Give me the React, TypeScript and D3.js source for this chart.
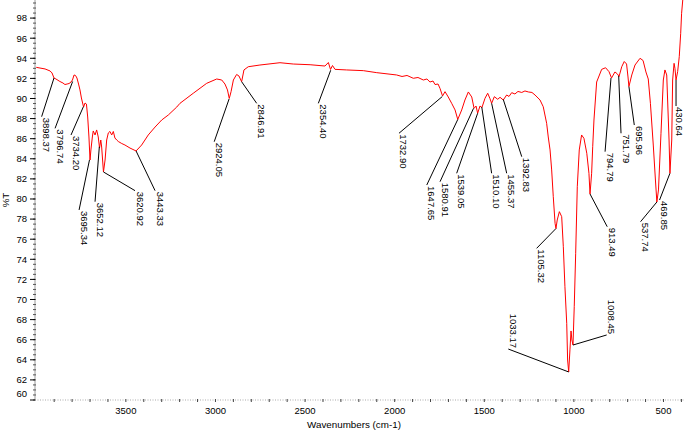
import React from "react";
import * as d3 from "d3";

const wavenumbers = [
  4000,3979,3951,3923,3912,3901,3890,3868,3851,3840,
  3828,3817,3806,3798,3789,3781,3773,3764,3756,3748,
  3736,3728,3720,3713,3706,3700,3695,3687,3682,3672,
  3663,3654,3647,3640,3635,3625,3616,3607,3598,3589,
  3579,3570,3561,3551,3542,3523,3505,3477,3443,3412,
  3375,3337,3300,3263,3216,3198,3124,3049,2993,2965,
  2947,2933,2923,2913,2900,2882,2869,2854,2841,2817,
  2752,2640,2566,2472,2389,2370,2358,2347,2333,2268,
  2175,2100,1989,1959,1931,1896,1870,1840,1820,1803,1786,1775,1758,1747,1733,1719,
  1701,1682,1663,1648,1626,1608,1589,1570,1557,1546,
  1537,1524,1513,1496,1481,1469,1459,1444,1425,1412,
  1394,1375,1362,1347,1329,1312,1291,1273,1254,1234,1217,1189,1171,1152,1143,
  1133,1124,1115,1105,1100,1093,1081,1068,1059,1050,
  1040,1035,1029,1022,1016,1011,1005,998,990,981,
  970,957,944,928,916,910,901,895,888,873,
  845,823,804,790,771,757,748,733,719,706,
  698,693,677,659,631,614,598,585,573,557,
  545,537,528,514,501,492,482,477,469,464,
  454,449,441,436,430,421,412,404,399,390,
];

const transmittance = [
  93.1,93.03,92.94,92.74,92.54,92.04,91.94,91.69,91.54,91.39,
  91.44,91.49,91.64,91.84,92.34,92.29,92.04,91.44,90.85,90.05,
  89.15,89.55,89.45,88.16,86.17,83.88,84.88,86.17,86.77,86.37,
  86.87,86.17,85.07,85.87,85.17,82.69,83.88,85.87,86.57,86.72,
  86.37,86.72,86.07,85.87,85.72,85.52,85.37,85.07,84.78,85.37,
  86.37,87.16,87.86,88.36,89.15,89.52,90.52,91.51,91.94,91.84,
  91.44,90.85,90.0,90.68,91.84,92.39,92.24,91.67,92.84,93.16,
  93.33,93.56,93.43,93.36,93.23,93.58,92.89,93.28,92.9,92.84,
  92.77,92.57,92.34,92.19,92.29,92.01,92.09,91.84,91.94,91.64,91.74,91.39,91.44,91.0,90.25,90.68,
  90.15,89.52,88.86,87.91,88.86,89.85,90.65,90.15,89.02,89.25,
  88.53,89.25,89.1,90.02,90.52,90.02,89.52,90.18,89.92,90.12,
  89.85,90.35,90.2,90.58,90.45,90.7,90.6,90.75,90.65,90.6,90.35,89.85,89.18,87.53,86.17,
  84.88,82.89,80.23,77.58,77.06,77.91,78.74,78.24,75.25,71.27,
  67.63,63.98,62.79,64.98,66.87,65.97,65.47,69.28,74.6,81.22,
  84.88,86.37,86.04,84.55,82.56,80.5,82.56,85.2,87.86,91.64,
  92.9,93.06,92.67,92.04,92.64,92.44,92.19,93.16,93.68,93.43,
  92.14,91.19,92.34,93.33,94.0,93.78,92.64,91.94,89.52,85.37,
  81.89,79.7,80.9,86.54,91.84,92.84,92.34,89.85,85.87,82.56,
  85.87,91.84,93.5,93.0,91.84,92.67,94.16,96.49,98.48,100.3,
];

const peakLabels = ["3898.37","3796.74","3734.20","3695.34","3652.12","3620.92","3443.33","2924.05","2846.91","2354.40","1732.90","1647.65","1580.91","1539.05","1510.10","1455.37","1392.83","1105.32","1033.17","1008.45","913.49","794.79","751.79","695.96","537.74","469.85","430.64"];
const peakWn = [3901,3797,3737,3703,3648,3625,3443,2924,2854,2357,1734,1648,1560,1537,1514,1459,1394,1100,1029,1005,910,793,750,693,537,464,430];
const peakT = [92.04,91.69,89.18,83.88,85.2,82.69,84.78,89.95,91.67,92.81,90.2,87.91,89.02,88.53,89.15,89.52,89.9,77.06,62.79,65.47,80.5,92.04,92.24,91.19,79.7,82.56,91.84];
const labelWn = [3970,3895,3806,3761,3672,3449,3337,3007,2770,2426,1976,1821,1747,1654,1459,1375,1291,1208,1366,817,814,826,737,663,628,522,430];
const labelT = [88.19,87.03,86.37,78.91,79.73,80.83,80.83,85.7,89.52,89.52,86.54,81.39,81.72,82.56,82.56,82.56,84.21,75.09,65.07,66.47,77.24,84.71,86.54,87.36,77.74,79.9,89.25];

const xTickLabels = [3500, 3000, 2500, 2000, 1500, 1000, 500];
const yTickLabels = [60, 62, 64, 66, 68, 70, 72, 74, 76, 78, 80, 82, 84, 86, 88, 90, 92, 94, 96, 98];

const W = 685;
const H = 430;
const FONT = "'Liberation Sans', Arial, Helvetica, sans-serif";

export default function App() {
  const x = d3.scaleLinear().domain([4007, 380]).range([35, 685]);
  const y = d3.scaleLinear().domain([60, 99.8]).range([400, 0]);
  const data = wavenumbers.map((w, i) => [w, transmittance[i]] as [number, number]);
  const line = d3.line<[number, number]>().x((d) => x(d[0])).y((d) => y(d[1]));

  const minorX = d3.range(3900, 399, -100);
  const minorY = d3.range(60, 99.8, 0.5);

  return (
    <svg width={W} height={H} style={{ position: "absolute", left: 0, top: 0, background: "#fff" }}>
      <defs>
        <clipPath id="plot">
          <rect x={35} y={0} width={650} height={400} />
        </clipPath>
      </defs>
      {/* y axis */}
      <line x1={35} x2={35} y1={0} y2={400} stroke="#9a9a9a" strokeWidth={1} />
      {minorY.map((v) => (
        <line key={"my" + v} x1={33} x2={36} y1={y(v)} y2={y(v)} stroke="#555" strokeWidth={1} />
      ))}
      {yTickLabels.map((v) => (
        <g key={"yt" + v}>
          <line x1={30} x2={35} y1={y(v)} y2={y(v)} stroke="#000" strokeWidth={1} />
          <text x={27} y={v === 60 ? y(v) - 6.5 : y(v)} dy="0.35em" textAnchor="end" fontFamily={FONT} fontSize={9.5} fill="#000">
            {v}
          </text>
        </g>
      ))}
      {/* x axis */}
      <line x1={35} x2={685} y1={400} y2={400} stroke="#aaa" strokeWidth={1} strokeDasharray="1,1.5" />
      {minorX.map((w) => (
        <line key={"mx" + w} x1={x(w)} x2={x(w)} y1={399} y2={402} stroke="#444" strokeWidth={1} />
      ))}
      {xTickLabels.map((w) => (
        <text key={"xt" + w} x={x(w)} y={413.5} textAnchor="middle" fontFamily={FONT} fontSize={9.5} fill="#000">
          {w}
        </text>
      ))}
      <text x={354} y={428} textAnchor="middle" fontFamily={FONT} fontSize={9.8} fill="#000">
        Wavenumbers (cm-1)
      </text>
      <text transform="translate(9,200) rotate(-90)" textAnchor="middle" fontFamily={FONT} fontSize={9.8} fill="#000">
        %T
      </text>
      {/* spectrum */}
      <path d={line(data) || ""} fill="none" stroke="#ff0000" strokeWidth={1} clipPath="url(#plot)" />
      {/* peak annotations */}
      {peakLabels.map((lab, i) => {
        const px = x(peakWn[i]);
        const py = y(peakT[i]);
        const lx = x(labelWn[i]);
        const ly = y(labelT[i]);
        const up = labelT[i] > peakT[i];
        const tx = Math.min(lx + 1.5, W - 9);
        return (
          <g key={"pk" + i}>
            <line x1={px} y1={py} x2={lx} y2={ly} stroke="#000" strokeWidth={1} />
            <text
              transform={`translate(${tx},${up ? ly - 1 : ly + 1}) rotate(90)`}
              textAnchor={up ? "end" : "start"}
              fontFamily={FONT}
              fontSize={9.5}
              fill="#000"
            >
              {lab}
            </text>
          </g>
        );
      })}
    </svg>
  );
}
